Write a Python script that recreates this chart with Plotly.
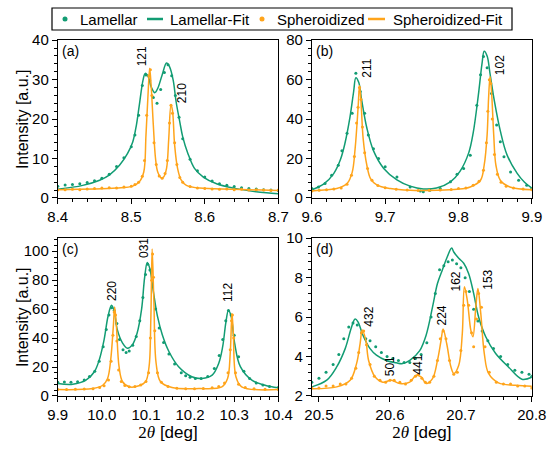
import plotly.graph_objects as go
from plotly.subplots import make_subplots

GREEN = "#129C73"
ORANGE = "#FFA41B"

# ---- panel (a) ----
a_fit_lam_x = [8.400, 8.434, 8.457, 8.470, 8.484, 8.495, 8.502, 8.507, 8.511, 8.516, 8.519, 8.523, 8.527,
               8.532, 8.536, 8.542, 8.548, 8.552, 8.557, 8.561, 8.566, 8.570, 8.577, 8.586, 8.598, 8.616,
               8.639, 8.661, 8.684, 8.700]
a_fit_lam_y = [2.2, 3.2, 4.5, 5.8, 8.3, 11.3, 14.2, 18.5, 23.6, 29.9, 31.6, 30.8, 28.2,
               26.7, 27.8, 31.2, 34.2, 33.3, 29.9, 24.4, 19.3, 15.5, 11.3, 7.5, 5.3, 3.6,
               2.5, 1.8, 1.3, 1.1]
a_fit_sph_x = [8.400, 8.480, 8.502, 8.511, 8.517, 8.520, 8.523, 8.525, 8.527, 8.530, 8.533, 8.536, 8.541,
               8.544, 8.548, 8.551, 8.554, 8.556, 8.559, 8.563, 8.568, 8.575, 8.593, 8.639, 8.700]
a_fit_sph_y = [2.1, 2.5, 3.0, 4.1, 6.6, 15.9, 27.0, 32.9, 28.6, 18.5, 10.0, 6.6, 5.1,
               5.3, 7.5, 15.1, 23.6, 22.3, 13.4, 7.5, 4.5, 3.2, 2.5, 2.2, 1.9]
a_dat_lam_x = [8.40, 8.41, 8.42, 8.43, 8.44, 8.45, 8.46, 8.47, 8.48, 8.49, 8.50, 8.505, 8.51, 8.515,
               8.52, 8.525, 8.53, 8.535, 8.54, 8.545, 8.55, 8.555, 8.56, 8.565, 8.57, 8.58, 8.59,
               8.60, 8.61, 8.62, 8.63, 8.64, 8.65, 8.66, 8.67, 8.68, 8.69, 8.70]
a_dat_lam_y = [3.0, 3.3, 3.4, 3.6, 3.9, 4.4, 5.0, 6.0, 8.0, 10.2, 13.0, 16.0, 21.0, 28.5,
               31.2, 29.8, 25.5, 24.0, 27.5, 31.8, 33.8, 31.0, 26.0, 20.5, 15.0, 9.8, 6.9,
               5.3, 4.3, 3.6, 3.2, 2.9, 2.6, 2.4, 2.3, 2.1, 2.0, 1.9]
a_dat_sph_x = [8.40, 8.41, 8.42, 8.43, 8.44, 8.45, 8.46, 8.47, 8.48, 8.49, 8.50, 8.505, 8.51, 8.515,
               8.518, 8.521, 8.524, 8.526, 8.528, 8.531, 8.534, 8.538, 8.542, 8.546, 8.549, 8.552,
               8.554, 8.556, 8.559, 8.562, 8.566, 8.57, 8.58, 8.59, 8.60, 8.61, 8.62, 8.63, 8.64,
               8.65, 8.66, 8.67, 8.68, 8.69, 8.70]
a_dat_sph_y = [2.0, 2.1, 2.2, 2.1, 2.3, 2.4, 2.5, 2.6, 2.5, 2.8, 3.0, 3.4, 4.0, 5.5,
               9.5, 21.0, 31.0, 32.5, 26.0, 14.0, 8.5, 5.6, 5.0, 6.2, 9.5, 19.0,
               23.5, 21.5, 14.0, 8.5, 5.2, 4.0, 2.9, 2.5, 2.4, 2.3, 2.2, 2.3, 2.1,
               2.2, 2.0, 2.1, 2.0, 1.9, 2.0]

# ---- panel (b) ----
b_fit_lam_x = [9.600, 9.616, 9.630, 9.639, 9.645, 9.652, 9.657, 9.660, 9.664, 9.668, 9.675, 9.684, 9.698,
               9.716, 9.734, 9.752, 9.770, 9.789, 9.802, 9.814, 9.820, 9.827, 9.832, 9.835, 9.839,
               9.843, 9.849, 9.857, 9.866, 9.880, 9.890, 9.900]
b_fit_lam_y = [4.2, 7.0, 12.5, 19.5, 27.5, 41.0, 54.0, 61.0, 58.5, 49.5, 35.5, 24.0, 15.0,
               9.2, 6.0, 4.6, 5.1, 8.2, 13.5, 23.0, 33.0, 52.0, 68.0, 74.4, 72.0,
               63.0, 49.0, 34.0, 22.0, 12.5, 8.0, 5.0]
b_fit_sph_x = [9.600, 9.620, 9.634, 9.648, 9.655, 9.659, 9.663, 9.665, 9.667, 9.670, 9.675, 9.680, 9.689,
               9.707, 9.734, 9.770, 9.798, 9.816, 9.830, 9.835, 9.839, 9.841, 9.843, 9.845, 9.848,
               9.851, 9.857, 9.870, 9.900]
b_fit_sph_y = [3.6, 4.2, 4.8, 7.3, 13.0, 25.0, 45.5, 57.0, 49.0, 30.0, 16.6, 9.8, 6.5,
               4.8, 3.9, 3.9, 4.4, 5.6, 9.0, 16.6, 32.0, 50.6, 61.6, 54.0, 32.0,
               16.6, 9.0, 5.6, 4.2]
b_dat_lam_x = [9.600, 9.609, 9.618, 9.627, 9.636, 9.641, 9.648, 9.655, 9.660, 9.666, 9.672, 9.677, 9.684,
               9.691, 9.700, 9.716, 9.734, 9.748, 9.752, 9.761, 9.775, 9.789, 9.798, 9.807, 9.816,
               9.825, 9.830, 9.834, 9.839, 9.845, 9.852, 9.857, 9.862, 9.871, 9.882, 9.893, 9.900]
b_dat_lam_y = [4.8, 5.6, 7.3, 11.5, 16.6, 24.0, 32.8, 43.0, 63.3, 54.0, 43.0, 32.0, 25.0,
               20.0, 15.8, 10.7, 5.6, 3.5, 3.1, 3.9, 4.8, 8.2, 12.0, 15.0, 21.7,
               47.0, 62.5, 71.8, 66.0, 53.0, 37.0, 28.5, 20.9, 13.2, 9.0, 6.5, 4.8]
b_dat_sph_x = [9.600, 9.610, 9.620, 9.630, 9.640, 9.648, 9.654, 9.658, 9.661, 9.663, 9.665, 9.667, 9.669,
               9.672, 9.676, 9.682, 9.690, 9.700, 9.715, 9.730, 9.745, 9.760, 9.775, 9.790, 9.800,
               9.810, 9.820, 9.828, 9.834, 9.838, 9.840, 9.842, 9.844, 9.846, 9.849, 9.853, 9.858,
               9.865, 9.875, 9.888, 9.900]
b_dat_sph_y = [3.6, 3.9, 4.2, 4.5, 5.1, 7.0, 11.5, 21.0, 38.0, 46.0, 56.0, 50.0, 36.0,
               23.0, 15.0, 9.0, 6.3, 5.2, 4.4, 4.0, 3.8, 3.9, 4.0, 4.3, 4.8,
               5.0, 6.5, 8.5, 14.0, 28.0, 44.0, 60.0, 58.0, 40.0, 22.0, 12.0, 8.0,
               6.0, 5.0, 4.5, 4.2]

# ---- panel (c) ----
c_fit_lam_x = [9.900, 9.934, 9.964, 9.983, 9.994, 10.005, 10.014, 10.022, 10.028, 10.035, 10.047, 10.058,
               10.069, 10.080, 10.090, 10.097, 10.103, 10.109, 10.116, 10.126, 10.137, 10.152, 10.174,
               10.204, 10.227, 10.250, 10.265, 10.274, 10.281, 10.287, 10.293, 10.301, 10.314, 10.340,
               10.370, 10.400]
c_fit_lam_y = [8.6, 8.1, 10.9, 16.7, 24.9, 38.8, 55.1, 62.6, 58.6, 45.8, 36.5, 33.0,
               35.3, 43.5, 59.8, 81.9, 92.3, 87.7, 73.7, 55.1, 42.3, 30.7, 20.2,
               13.3, 12.1, 14.4, 22.6, 34.2, 50.5, 59.3, 55.1, 36.5, 20.2, 10.9,
               7.4, 5.6]
c_fit_sph_x = [9.900, 9.979, 10.002, 10.013, 10.020, 10.026, 10.029, 10.033, 10.039, 10.047, 10.062, 10.084,
               10.099, 10.107, 10.111, 10.114, 10.118, 10.123, 10.133, 10.159, 10.220, 10.272, 10.285,
               10.291, 10.295, 10.298, 10.304, 10.317, 10.400]
c_fit_sph_y = [4.4, 5.1, 7.4, 12.1, 24.9, 48.1, 61.5, 48.1, 20.2, 9.8, 6.3, 7.0,
               9.8, 20.2, 52.8, 101.6, 64.4, 22.6, 9.8, 5.8, 5.1, 6.3, 12.1,
               29.5, 57.0, 43.5, 13.3, 6.3, 4.4]
c_dat_lam_x = [9.900, 9.915, 9.930, 9.945, 9.960, 9.972, 9.984, 9.994, 10.003, 10.010, 10.016, 10.022,
               10.028, 10.034, 10.040, 10.048, 10.055, 10.062, 10.070, 10.078, 10.086, 10.093, 10.099,
               10.104, 10.109, 10.115, 10.122, 10.130, 10.140, 10.152, 10.165, 10.180, 10.190, 10.200,
               10.212, 10.225, 10.240, 10.255, 10.266, 10.274, 10.281, 10.287, 10.293, 10.300, 10.310,
               10.322, 10.335, 10.350, 10.365, 10.380, 10.400]
c_dat_lam_y = [9.5, 9.7, 9.4, 9.8, 11.0, 13.5, 17.0, 24.0, 34.0, 46.0, 56.0, 61.0,
               59.0, 50.0, 39.0, 32.0, 30.0, 31.0, 35.0, 41.0, 52.0, 68.0, 84.0,
               91.0, 87.0, 76.0, 60.0, 47.0, 37.0, 29.0, 22.0, 16.0, 14.0, 13.0,
               12.0, 12.0, 13.5, 19.0, 28.0, 39.0, 52.0, 59.0, 56.0, 42.0, 27.0,
               17.0, 12.0, 9.0, 7.5, 6.5, 5.8]
c_dat_sph_x = [9.900, 9.920, 9.940, 9.960, 9.980, 9.995, 10.005, 10.015, 10.021, 10.025, 10.028, 10.031,
               10.034, 10.038, 10.044, 10.052, 10.062, 10.075, 10.088, 10.100, 10.106, 10.110, 10.113,
               10.115, 10.117, 10.120, 10.126, 10.135, 10.150, 10.170, 10.190, 10.210, 10.230, 10.250,
               10.265, 10.278, 10.286, 10.291, 10.294, 10.296, 10.299, 10.303, 10.310, 10.325, 10.345,
               10.370, 10.400]
c_dat_sph_y = [4.4, 4.5, 4.6, 4.8, 5.0, 5.8, 7.0, 11.0, 24.0, 42.0, 58.0, 56.0,
               38.0, 18.0, 10.0, 7.2, 6.3, 6.6, 7.6, 10.0, 16.0, 40.0, 80.0,
               98.0, 82.0, 45.0, 16.0, 9.5, 6.5, 5.4, 5.0, 5.0, 5.2, 5.6,
               6.5, 9.0, 16.0, 32.0, 52.0, 56.0, 40.0, 16.0, 8.0, 5.8, 5.0,
               4.6, 4.4]

# ---- panel (d) ----
d_fit_lam_x = [20.490, 20.511, 20.525, 20.537, 20.546, 20.551, 20.555, 20.562, 20.572, 20.581, 20.595,
               20.609, 20.618, 20.628, 20.642, 20.651, 20.660, 20.667, 20.674, 20.681, 20.687, 20.690,
               20.697, 20.704, 20.711, 20.718, 20.725, 20.735, 20.749, 20.767, 20.786, 20.800]
d_fit_lam_y = [2.46, 2.8, 3.47, 4.4, 5.5, 5.9, 5.76, 5.08, 4.4, 4.07, 3.8,
               3.68, 3.64, 3.8, 4.3, 5.08, 6.5, 7.7, 8.4, 9.07, 9.5, 9.3,
               8.98, 8.73, 8.2, 7.2, 6.0, 5.0, 4.15, 3.47, 2.85, 2.95]
d_fit_sph_x = [20.490, 20.525, 20.544, 20.553, 20.558, 20.561, 20.566, 20.570, 20.579, 20.590, 20.602,
               20.614, 20.628, 20.637, 20.644, 20.651, 20.660, 20.667, 20.672, 20.675, 20.680, 20.686,
               20.690, 20.697, 20.702, 20.705, 20.709, 20.714, 20.717, 20.721, 20.724, 20.728, 20.733,
               20.739, 20.753, 20.777, 20.800]
d_fit_sph_y = [2.37, 2.46, 2.8, 3.64, 4.66, 5.34, 4.83, 3.8, 2.97, 2.7, 2.8,
               2.63, 2.7, 3.05, 2.97, 2.63, 2.88, 3.8, 4.8, 5.4, 4.66, 3.47,
               3.14, 3.56, 5.17, 7.54, 6.86, 5.34, 5.0, 6.5, 7.45, 6.2, 4.15,
               3.14, 2.66, 2.54, 2.49]
d_dat_lam_x = [20.490, 20.500, 20.510, 20.520, 20.528, 20.535, 20.542, 20.548, 20.554, 20.560, 20.566,
               20.572, 20.580, 20.588, 20.596, 20.604, 20.612, 20.620, 20.628, 20.636, 20.644, 20.652,
               20.658, 20.664, 20.670, 20.676, 20.682, 20.688, 20.694, 20.700, 20.706, 20.712, 20.718,
               20.724, 20.730, 20.738, 20.746, 20.756, 20.766, 20.776, 20.786, 20.796, 20.800]
d_dat_lam_y = [2.7, 2.9, 3.2, 3.6, 4.1, 4.9, 5.5, 5.7, 5.6, 5.2, 4.9,
               4.8, 4.5, 4.2, 4.0, 3.9, 3.8, 3.7, 3.7, 3.9, 4.1, 4.7,
               6.0, 7.2, 8.4, 8.6, 8.8, 8.9, 8.7, 8.5, 8.0, 7.3, 6.4,
               5.8, 5.3, 4.8, 4.4, 4.0, 3.6, 3.3, 3.2, 3.1, 3.0]
d_dat_sph_x = [20.490, 20.500, 20.510, 20.520, 20.530, 20.538, 20.546, 20.552, 20.556, 20.560, 20.563,
               20.567, 20.572, 20.578, 20.586, 20.594, 20.600, 20.606, 20.614, 20.622, 20.630, 20.636,
               20.640, 20.645, 20.650, 20.656, 20.662, 20.667, 20.671, 20.675, 20.679, 20.684, 20.690,
               20.695, 20.700, 20.704, 20.707, 20.711, 20.715, 20.718, 20.722, 20.725, 20.729, 20.734,
               20.740, 20.750, 20.760, 20.770, 20.780, 20.790, 20.800]
d_dat_sph_y = [2.4, 2.4, 2.5, 2.5, 2.6, 2.6, 2.9, 3.4, 4.2, 5.2, 5.3,
               4.6, 3.6, 3.0, 2.8, 2.7, 2.8, 2.8, 2.7, 2.6, 2.8, 3.0,
               3.1, 2.9, 2.7, 2.7, 3.0, 3.8, 4.9, 5.3, 4.9, 3.8, 3.1,
               3.2, 4.3, 6.6, 7.3, 6.6, 5.2, 4.5, 5.9, 7.2, 6.5, 4.5,
               3.2, 2.7, 2.6, 2.6, 2.5, 2.5, 2.4]

# peak labels (hkl), position in data coords
a_peaks = [("121", 8.514, 35.8), ("210", 8.570, 26.5)]
b_peaks = [("211", 9.675, 66.0), ("102", 9.857, 67.5)]
c_peaks = [("220", 10.023, 72.5), ("031", 10.097, 102.0), ("112", 10.287, 71.5)]
d_peaks = [("432", 20.570, 6.0), ("501", 20.600, 3.5), ("441", 20.640, 3.6),
           ("224", 20.674, 6.1), ("162", 20.693, 7.8), ("153", 20.737, 7.9)]

legend_names = ["Lamellar", "Lamellar-Fit", "Spheroidized", "Spheroidized-Fit"]

panels = [
    dict(row=1, col=1, tag="(a)", xr=[8.4, 8.7], yr=[0, 40], ydt=10, xdt=0.1,
         fl=(a_fit_lam_x, a_fit_lam_y), fs=(a_fit_sph_x, a_fit_sph_y),
         dl=(a_dat_lam_x, a_dat_lam_y), ds=(a_dat_sph_x, a_dat_sph_y), peaks=a_peaks),
    dict(row=1, col=2, tag="(b)", xr=[9.6, 9.9], yr=[0, 80], ydt=20, xdt=0.1,
         fl=(b_fit_lam_x, b_fit_lam_y), fs=(b_fit_sph_x, b_fit_sph_y),
         dl=(b_dat_lam_x, b_dat_lam_y), ds=(b_dat_sph_x, b_dat_sph_y), peaks=b_peaks),
    dict(row=2, col=1, tag="(c)", xr=[9.9, 10.4], yr=[0, 109], ydt=20, xdt=0.1,
         fl=(c_fit_lam_x, c_fit_lam_y), fs=(c_fit_sph_x, c_fit_sph_y),
         dl=(c_dat_lam_x, c_dat_lam_y), ds=(c_dat_sph_x, c_dat_sph_y), peaks=c_peaks),
    dict(row=2, col=2, tag="(d)", xr=[20.49, 20.8], yr=[2, 10], ydt=2, xdt=0.1,
         fl=(d_fit_lam_x, d_fit_lam_y), fs=(d_fit_sph_x, d_fit_sph_y),
         dl=(d_dat_lam_x, d_dat_lam_y), ds=(d_dat_sph_x, d_dat_sph_y), peaks=d_peaks),
]

fig = make_subplots(rows=2, cols=2)

for i, p in enumerate(panels):
    r, c = p["row"], p["col"]
    fig.add_trace(go.Scatter(x=p["dl"][0], y=p["dl"][1], mode="markers", name=legend_names[0],
                             marker=dict(color=GREEN, size=3), showlegend=False), row=r, col=c)
    fig.add_trace(go.Scatter(x=p["fl"][0], y=p["fl"][1], mode="lines", name=legend_names[1],
                             line=dict(color=GREEN, width=1.5, shape="spline"), showlegend=False),
                  row=r, col=c)
    fig.add_trace(go.Scatter(x=p["ds"][0], y=p["ds"][1], mode="markers", name=legend_names[2],
                             marker=dict(color=ORANGE, size=3), showlegend=False), row=r, col=c)
    fig.add_trace(go.Scatter(x=p["fs"][0], y=p["fs"][1], mode="lines", name=legend_names[3],
                             line=dict(color=ORANGE, width=1.5, shape="spline"), showlegend=False),
                  row=r, col=c)

    axis_n = "" if i == 0 else str(i + 1)
    for txt, px, py in p["peaks"]:
        fig.add_annotation(x=px, y=py, xref="x" + axis_n, yref="y" + axis_n, text=txt,
                           textangle=-90, showarrow=False, font=dict(size=12, color="black"))
    fig.add_annotation(x=0.01, y=0.995, xref="x" + axis_n + " domain", yref="y" + axis_n + " domain",
                       text=p["tag"], showarrow=False, xanchor="left", yanchor="top",
                       font=dict(size=14, color="black"))

    fig.update_xaxes(range=p["xr"], dtick=p["xdt"], tick0=p["xr"][0] if i != 3 else 20.5,
                     tickformat=".1f",
                     minor=dict(dtick=p["xdt"] / 5, ticks="outside", ticklen=3),
                     row=r, col=c)
    fig.update_yaxes(range=p["yr"], dtick=p["ydt"], tick0=p["yr"][0],
                     minor=dict(dtick=p["ydt"] / 5, ticks="outside", ticklen=3),
                     row=r, col=c)

fig.update_xaxes(showline=True, linecolor="black", linewidth=1, mirror=True, ticks="outside",
                 ticklen=5, tickcolor="black", showgrid=False, zeroline=False,
                 tickfont=dict(size=15, color="black"))
fig.update_yaxes(showline=True, linecolor="black", linewidth=1, mirror=True, ticks="outside",
                 ticklen=5, tickcolor="black", showgrid=False, zeroline=False,
                 tickfont=dict(size=15, color="black"))

x_title = '<span style="font-family:\'Liberation Serif\', serif">2<i>θ</i></span> [deg]'
fig.update_xaxes(title=dict(text=x_title, font=dict(size=17, color="black"), standoff=0), row=2)

left_dom = [0.105, 0.506]
right_dom = [0.567, 0.967]
top_dom = [0.562, 0.911]
bot_dom = [0.124, 0.473]
fig.update_layout(
    xaxis=dict(domain=left_dom), yaxis=dict(domain=top_dom),
    xaxis2=dict(domain=right_dom), yaxis2=dict(domain=top_dom),
    xaxis3=dict(domain=left_dom), yaxis3=dict(domain=bot_dom),
    xaxis4=dict(domain=right_dom), yaxis4=dict(domain=bot_dom),
)

W, H = 550.0, 452.0

# y titles for the left column
for dom in (top_dom, bot_dom):
    fig.add_annotation(x=22 / W, y=(dom[0] + dom[1]) / 2, xref="paper", yref="paper",
                       xanchor="center", yanchor="middle",
                       text="Intensity [a.u.]", textangle=-90, showarrow=False,
                       font=dict(size=16, color="black"))

# legend box drawn on the paper, symbol + label for each series
leg_y = 1 - 19 / H
fig.add_shape(type="rect", xref="paper", yref="paper", x0=52 / W, x1=512 / W,
              y0=1 - 30 / H, y1=1 - 8 / H, line=dict(color="black", width=1.2),
              fillcolor="white")
for cx, col in [(65, GREEN), (262, ORANGE)]:
    fig.add_shape(type="circle", xref="paper", yref="paper", xsizemode="pixel", ysizemode="pixel",
                  xanchor=cx / W, yanchor=leg_y, x0=-2.5, x1=2.5, y0=-2.5, y1=2.5,
                  fillcolor=col, line=dict(color=col, width=0))
for x0, x1, col in [(147, 163, GREEN), (368, 385, ORANGE)]:
    fig.add_shape(type="line", xref="paper", yref="paper", x0=x0 / W, x1=x1 / W,
                  y0=leg_y, y1=leg_y, line=dict(color=col, width=2.5))
for tx, name in zip([78, 168, 275, 391], legend_names):
    fig.add_annotation(x=tx / W, y=leg_y, xref="paper", yref="paper", text=name, showarrow=False,
                       xanchor="left", yanchor="middle", font=dict(size=15, color="black"))

fig.update_layout(
    width=550,
    height=452,
    margin=dict(l=0, r=0, t=0, b=0, autoexpand=False),
    paper_bgcolor="white",
    plot_bgcolor="white",
    showlegend=False,
    font=dict(family="Arial, 'Liberation Sans', sans-serif", color="black"),
)

# the page body keeps the browser's default 8px margin otherwise
fig.write_html("out.html", config={"displayModeBar": False},
               post_script="document.body.style.margin = '0';")
